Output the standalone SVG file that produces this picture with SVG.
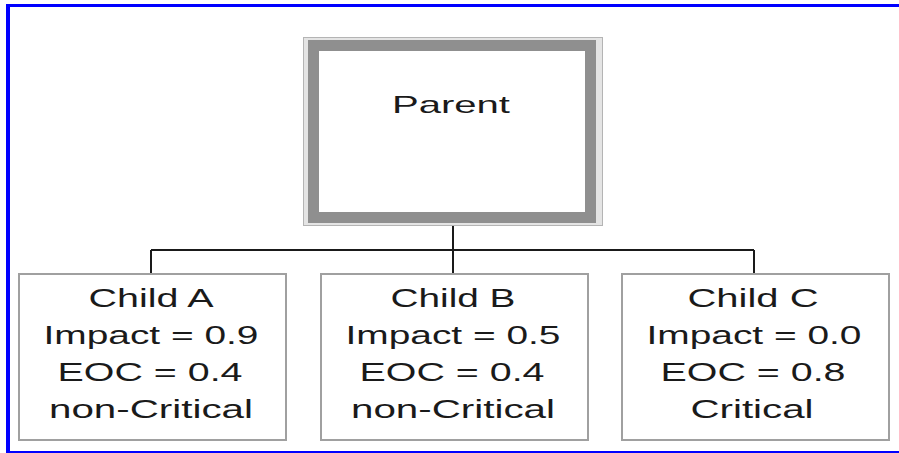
<svg xmlns="http://www.w3.org/2000/svg" width="899" height="453" viewBox="0 0 899 453">
  <style>
    .frame { fill: #0000ff; }
    .child { fill: #ffffff; stroke: #a0a0a0; stroke-width: 2; }
    .wire { fill: none; stroke: #1a1a1a; stroke-width: 2; }
    .lbl { font-family: "Liberation Sans", Arial, sans-serif; font-size: 26px; fill: #1a1a1a; text-anchor: middle; }
    .title { font-family: "Liberation Sans", Arial, sans-serif; font-size: 24px; fill: #1a1a1a; text-anchor: middle; }
  </style>

  <rect width="899" height="453" fill="#ffffff"/>

  <!-- page frame: top, left and bottom rules -->
  <rect class="frame" x="6" y="4" width="893" height="3"/>
  <rect class="frame" x="6" y="4" width="4" height="449"/>
  <rect class="frame" x="6" y="451" width="893" height="2"/>

  <!-- connectors -->
  <g id="connectors">
    <path class="wire" d="M453 226 V250"/>
    <path class="wire" d="M151 250 H754"/>
    <path class="wire" d="M151 250 V274"/>
    <path class="wire" d="M453 250 V274"/>
    <path class="wire" d="M754 250 V274"/>
  </g>

  <g id="parent">
    <rect x="303.5" y="37.5" width="299" height="188" fill="#e4e4e4" stroke="#b4b4b4" stroke-width="1"/>
    <rect x="313.5" y="45.5" width="277" height="172" fill="#ffffff" stroke="#8f8f8f" stroke-width="11"/>
    <text class="title" x="451" y="113" textLength="118" lengthAdjust="spacingAndGlyphs">Parent</text>
  </g>

  <g id="child-a">
    <rect class="child" x="19" y="274" width="267" height="166"/>
    <text class="lbl" x="151" y="307" textLength="125" lengthAdjust="spacingAndGlyphs">Child A</text>
    <text class="lbl" x="151" y="344" textLength="215" lengthAdjust="spacingAndGlyphs">Impact = 0.9</text>
    <text class="lbl" x="150" y="381" textLength="185" lengthAdjust="spacingAndGlyphs">EOC = 0.4</text>
    <text class="lbl" x="151" y="418" textLength="204" lengthAdjust="spacingAndGlyphs">non-Critical</text>
  </g>

  <g id="child-b">
    <rect class="child" x="321" y="274" width="267" height="166"/>
    <text class="lbl" x="453" y="307" textLength="125" lengthAdjust="spacingAndGlyphs">Child B</text>
    <text class="lbl" x="453" y="344" textLength="215" lengthAdjust="spacingAndGlyphs">Impact = 0.5</text>
    <text class="lbl" x="452" y="381" textLength="185" lengthAdjust="spacingAndGlyphs">EOC = 0.4</text>
    <text class="lbl" x="453" y="418" textLength="204" lengthAdjust="spacingAndGlyphs">non-Critical</text>
  </g>

  <g id="child-c">
    <rect class="child" x="622" y="274" width="267" height="166"/>
    <text class="lbl" x="753" y="307" textLength="131" lengthAdjust="spacingAndGlyphs">Child C</text>
    <text class="lbl" x="754" y="344" textLength="215" lengthAdjust="spacingAndGlyphs">Impact = 0.0</text>
    <text class="lbl" x="753" y="381" textLength="185" lengthAdjust="spacingAndGlyphs">EOC = 0.8</text>
    <text class="lbl" x="752" y="418" textLength="123" lengthAdjust="spacingAndGlyphs">Critical</text>
  </g>
</svg>
